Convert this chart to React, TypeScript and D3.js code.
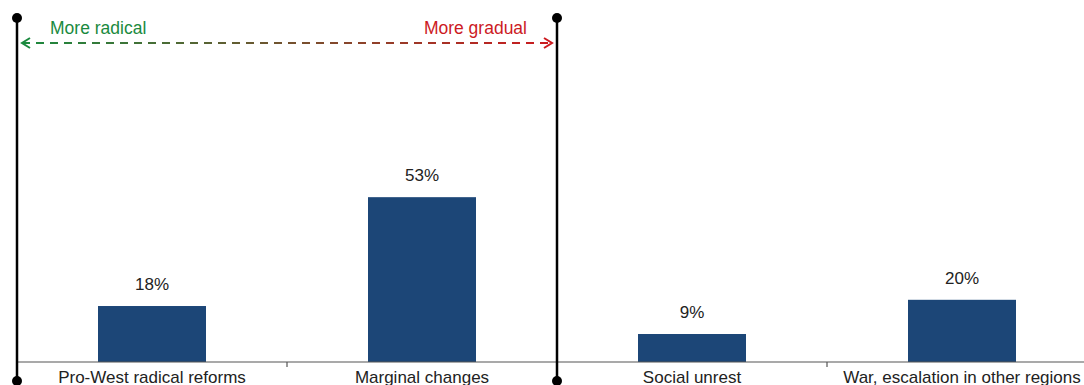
import React from "react";
import * as d3 from "d3";

const categories = ["Pro-West radical reforms", "Marginal changes", "Social unrest", "War, escalation in other regions"];
const values = [18, 53, 9, 20];
const valueLabels = ["18%", "53%", "9%", "20%"];
const arrowLabels = ["More radical", "More gradual"];

const W = 1084;
const H = 385;
const FONT = "'Liberation Sans', Arial, sans-serif";

export default function App() {
  const x = d3.scaleBand<string>().domain(categories).range([17, 1097]).paddingInner(0).paddingOuter(0);
  const y = d3.scaleLinear().domain([0, 100]).range([362, 51]);
  const bw = x.bandwidth() * 0.4;
  const dividers = [17, 557];
  const arrowY = 43;
  return (
    <div style={{ position: "absolute", left: 0, top: 0 }}>
      <svg width={W} height={H} style={{ display: "block" }}>
        <defs>
          <linearGradient id="arrGrad" x1="0" x2="1" y1="0" y2="0">
            <stop offset="0%" stopColor="#1a8a3e" />
            <stop offset="100%" stopColor="#cc1a1f" />
          </linearGradient>
        </defs>
        {categories.map((c, i) => {
          const cx = (x(c) as number) + x.bandwidth() / 2;
          return (
            <g key={c}>
              <rect x={cx - bw / 2} y={y(values[i])} width={bw} height={y(0) - y(values[i])} fill="#1c4677" />
              <text x={cx} y={y(values[i]) - 16} textAnchor="middle" fontFamily={FONT} fontSize={17} fill="#222">{valueLabels[i]}</text>
              <text x={cx} y={383} textAnchor="middle" fontFamily={FONT} fontSize={17} fill="#222">{c}</text>
            </g>
          );
        })}
        <line x1={17} x2={W} y1={y(0)} y2={y(0)} stroke="#555" strokeWidth={1.2} />
        {categories.slice(1).map((c) => (
          <line key={c} x1={x(c) as number} x2={x(c) as number} y1={y(0)} y2={y(0) + 5} stroke="#555" strokeWidth={1.2} />
        ))}
        {dividers.map((dx) => (
          <g key={dx}>
            <line x1={dx} x2={dx} y1={18} y2={381} stroke="#000" strokeWidth={2.5} />
            <circle cx={dx} cy={18} r={5} fill="#000" />
            <circle cx={dx} cy={381} r={5} fill="#000" />
          </g>
        ))}
        <line x1={22} x2={552} y1={arrowY} y2={arrowY + 0.001} stroke="url(#arrGrad)" strokeWidth={2.2} strokeDasharray="8,6" />
        <path d={`M30,${arrowY - 5} L22,${arrowY} L30,${arrowY + 5}`} fill="none" stroke="#1a8a3e" strokeWidth={2} />
        <path d={`M544,${arrowY - 5} L552,${arrowY} L544,${arrowY + 5}`} fill="none" stroke="#cc1a1f" strokeWidth={2} />
        <text x={50} y={34} fontFamily={FONT} fontSize={17.5} fill="#1a8a3e">{arrowLabels[0]}</text>
        <text x={527} y={34} textAnchor="end" fontFamily={FONT} fontSize={17.5} fill="#cc1a1f">{arrowLabels[1]}</text>
      </svg>
    </div>
  );
}
